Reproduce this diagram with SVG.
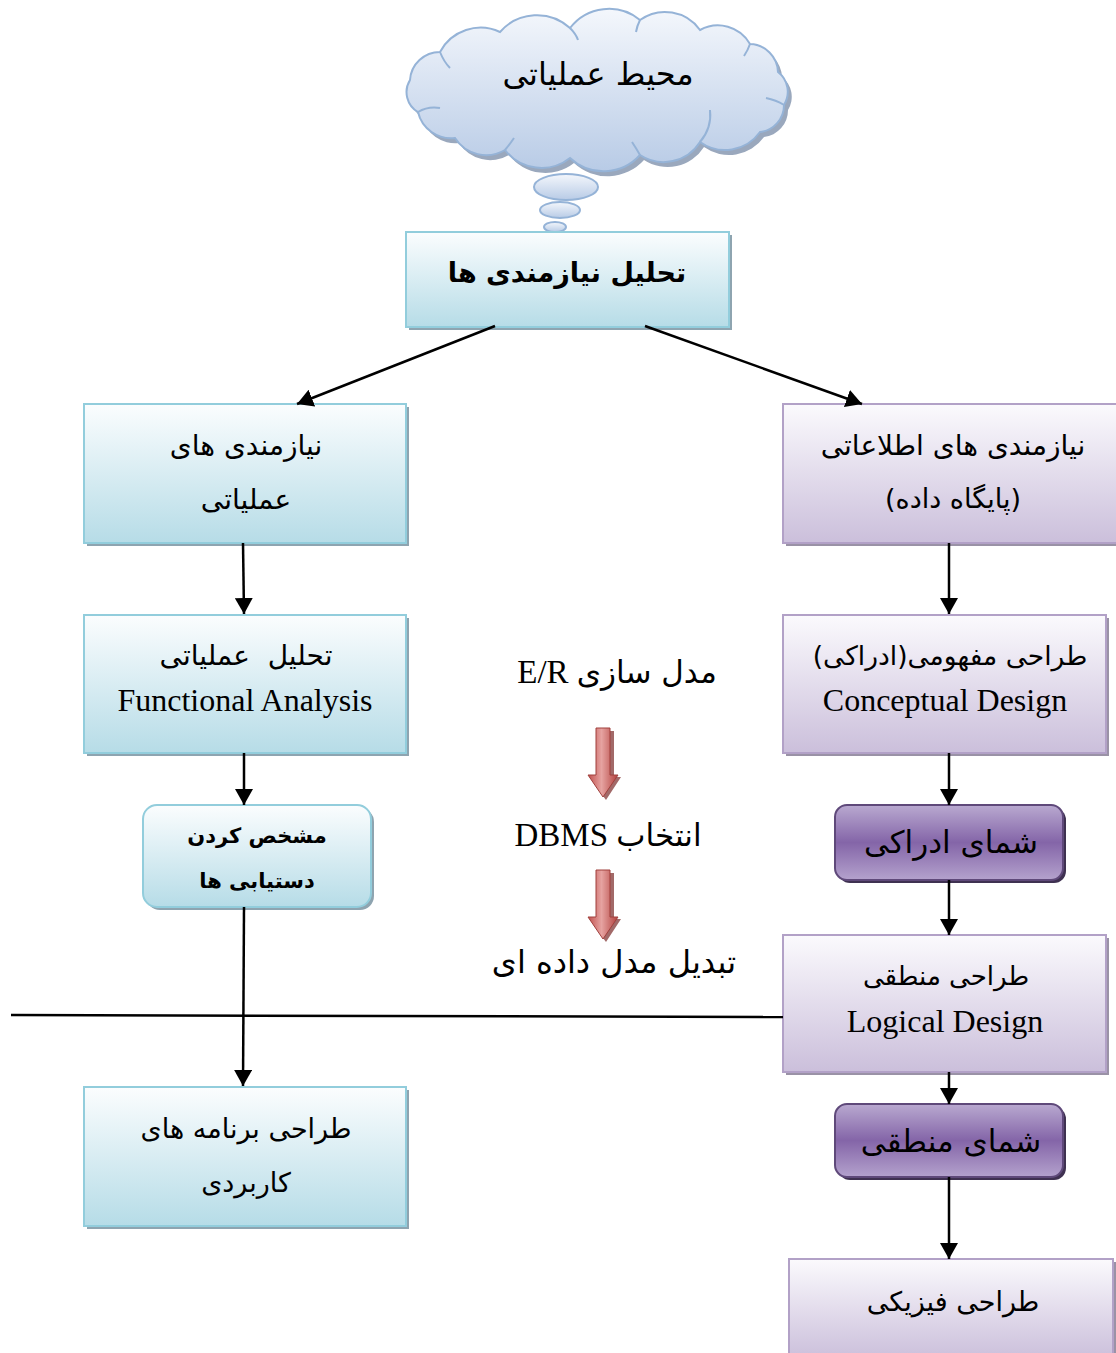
<svg xmlns="http://www.w3.org/2000/svg" width="1116" height="1353" viewBox="0 0 1116 1353">
<defs>
<linearGradient id="gBlue" x1="0" y1="0" x2="0" y2="1"><stop offset="0" stop-color="#fbfdfe"/><stop offset="1" stop-color="#b6dce7"/></linearGradient>
<linearGradient id="gPurple" x1="0" y1="0" x2="0" y2="1"><stop offset="0" stop-color="#fbfafd"/><stop offset="1" stop-color="#cbbfdb"/></linearGradient>
<linearGradient id="gPurpleDark" x1="0" y1="0" x2="0" y2="1"><stop offset="0" stop-color="#b9a9d0"/><stop offset="0.5" stop-color="#8465a8"/><stop offset="1" stop-color="#b4a2cd"/></linearGradient>
<linearGradient id="gCloud" x1="0" y1="0" x2="0" y2="1"><stop offset="0" stop-color="#f4f7fc"/><stop offset="1" stop-color="#b8cbe6"/></linearGradient>
<linearGradient id="gRed" x1="0" y1="0" x2="1" y2="0"><stop offset="0" stop-color="#c0504d"/><stop offset="0.45" stop-color="#e6a3a1"/><stop offset="1" stop-color="#b2403d"/></linearGradient>
<marker id="arr" markerUnits="userSpaceOnUse" markerWidth="16" markerHeight="18" viewBox="0 0 16 18" refX="16" refY="9" orient="auto"><path d="M0,0 L16,9 L0,18 Z" fill="#000"/></marker>
<path id="cloudShape" d="M418,112 A23,23 0 0 1 410,80 A30,30 0 0 1 440,52 A46,46 0 0 1 500,32 A49,49 0 0 1 570,28 A49,49 0 0 1 640,20 A43,43 0 0 1 700,30 A37,37 0 0 1 750,44 A29,29 0 0 1 778,72 A25,25 0 0 1 784,105 A27,27 0 0 1 760,132 A43,43 0 0 1 700,142 A43,43 0 0 1 640,155 A49,49 0 0 1 570,158 A46,46 0 0 1 505,150 A37,37 0 0 1 455,138 A34,34 0 0 1 418,112 Z"/>
</defs>
<style>
.blue{fill:url(#gBlue);stroke:#92cddc;stroke-width:2}
.purple{fill:url(#gPurple);stroke:#b2a1c7;stroke-width:2}
.pdark{fill:url(#gPurpleDark);stroke:#5f497a;stroke-width:2}
.sh{fill:#8ea4b0}
.shp{fill:#9a92a6}
.shd{fill:#3f3151}
.t{font-family:"Liberation Serif","DejaVu Sans",serif;fill:#000;text-anchor:middle}
.fa{font-family:"DejaVu Sans","Liberation Serif",serif;fill:#000;text-anchor:middle}
.c{stroke:#000;stroke-width:2.5;fill:none;marker-end:url(#arr)}
</style>

<g id="cloud">
<use href="#cloudShape" transform="translate(4,5)" fill="#9aa8bd"/>
<use href="#cloudShape" fill="url(#gCloud)" stroke="#95b3d7" stroke-width="2"/>
<g fill="none" stroke="#95b3d7" stroke-width="2">
<path d="M418,112 Q428,106 440,108"/>
<path d="M440,52 Q444,62 450,68"/>
<path d="M570,28 Q576,34 578,40"/>
<path d="M640,20 Q637,26 636,32"/>
<path d="M750,44 Q748,50 744,56"/>
<path d="M784,105 Q776,100 766,98"/>
<path d="M700,142 Q712,128 710,110"/>
<path d="M640,155 Q636,148 632,142"/>
<path d="M505,150 Q510,144 514,138"/>
</g>
<g fill="url(#gCloud)" stroke="#95b3d7" stroke-width="2">
<ellipse cx="566" cy="187" rx="32" ry="13"/>
<ellipse cx="560" cy="210" rx="20" ry="8"/>
<ellipse cx="555" cy="227" rx="11" ry="5"/>
</g>
<text class="fa" x="598" y="85" font-size="32">محیط عملیاتی</text>
</g>

<g id="n_req">
<rect class="sh" x="409" y="235" width="323" height="95"/>
<rect class="blue" x="406" y="232" width="323" height="95"/>
<text class="fa" x="567" y="282" font-size="27" font-weight="bold">تحلیل نیازمندی ها</text>
</g>

<g id="n_func_req">
<rect class="sh" x="87" y="407" width="322" height="139"/>
<rect class="blue" x="84" y="404" width="322" height="139"/>
<text class="fa" x="246" y="455" font-size="28">نیازمندی های</text>
<text class="fa" x="246" y="509" font-size="28">عملیاتی</text>
</g>

<g id="n_func_an">
<rect class="sh" x="87" y="618" width="322" height="138"/>
<rect class="blue" x="84" y="615" width="322" height="138"/>
<text class="fa" x="246" y="665" font-size="28" style="white-space:pre">تحلیل  عملیاتی</text>
<text class="t" x="245" y="711" font-size="32">Functional Analysis</text>
</g>

<g id="n_access">
<rect class="sh" x="146" y="808" width="228" height="102" rx="14"/>
<rect class="blue" x="143" y="805" width="228" height="102" rx="14"/>
<text class="fa" x="257" y="843" font-size="21" font-weight="bold">مشخص کردن</text>
<text class="fa" x="257" y="888" font-size="21" font-weight="bold">دستیابی ها</text>
</g>

<g id="n_app">
<rect class="sh" x="87" y="1090" width="322" height="139"/>
<rect class="blue" x="84" y="1087" width="322" height="139"/>
<text class="fa" x="246" y="1138" font-size="27">طراحی برنامه های</text>
<text class="fa" x="246" y="1192" font-size="27">کاربردی</text>
</g>

<g id="n_info_req">
<rect class="shp" x="786" y="407" width="333" height="139"/>
<rect class="purple" x="783" y="404" width="336" height="139"/>
<text class="fa" x="953" y="455" font-size="28">نیازمندی های اطلاعاتی</text>
<text class="fa" x="953" y="508" font-size="27">(پایگاه داده)</text>
</g>

<g id="n_concept">
<rect class="shp" x="786" y="618" width="323" height="138"/>
<rect class="purple" x="783" y="615" width="323" height="138"/>
<text class="fa" x="950" y="665" font-size="26.5">طراحی مفهومی(ادراکی)</text>
<text class="t" x="945" y="711" font-size="32">Conceptual Design</text>
</g>

<g id="n_cschema">
<rect class="shd" x="838" y="808" width="228" height="75" rx="12"/>
<rect class="pdark" x="835" y="805" width="228" height="75" rx="12"/>
<text class="fa" x="951" y="853" font-size="31">شمای ادراکی</text>
</g>

<g id="n_logical">
<rect class="shp" x="786" y="938" width="323" height="137"/>
<rect class="purple" x="783" y="935" width="323" height="137"/>
<text class="fa" x="946" y="985" font-size="26">طراحی منطقی</text>
<text class="t" x="945" y="1032" font-size="32">Logical Design</text>
</g>

<g id="n_lschema">
<rect class="shd" x="838" y="1107" width="228" height="73" rx="12"/>
<rect class="pdark" x="835" y="1104" width="228" height="73" rx="12"/>
<text class="fa" x="951" y="1152" font-size="31">شمای منطقی</text>
</g>

<g id="n_physical">
<rect class="shp" x="792" y="1262" width="324" height="100"/>
<rect class="purple" x="789" y="1259" width="324" height="100"/>
<text class="fa" x="953" y="1311" font-size="27">طراحی فیزیکی</text>
</g>

<g id="middle">
<text class="t" x="617" y="683" font-size="33" direction="rtl"><tspan font-family="DejaVu Sans" font-size="31">مدل سازی</tspan> E/R</text>
<path fill="#7a2a28" d="M600,731 H614 V777 H621 L606,800 L603,796 Z" opacity="0.7"/>
<path fill="url(#gRed)" stroke="#a0403d" stroke-width="1" d="M596,728 H610 V775 H618 L603,797 L588,775 H596 Z"/>
<text class="t" x="608" y="846" font-size="33" direction="rtl"><tspan font-family="DejaVu Sans" font-size="31">انتخاب</tspan> DBMS</text>
<path fill="#7a2a28" d="M600,873 H614 V919 H621 L606,942 L603,938 Z" opacity="0.7"/>
<path fill="url(#gRed)" stroke="#a0403d" stroke-width="1" d="M596,870 H610 V917 H618 L603,939 L588,917 H596 Z"/>
<text class="fa" x="614" y="973" font-size="32">تبدیل مدل داده ای</text>
</g>

<g id="connectors">
<line class="c" x1="495" y1="326" x2="297" y2="404"/>
<line class="c" x1="645" y1="326" x2="862" y2="404"/>
<line class="c" x1="243" y1="543" x2="244" y2="614"/>
<line class="c" x1="244" y1="753" x2="244" y2="805"/>
<line class="c" x1="244" y1="907" x2="243" y2="1086"/>
<line class="c" x1="949" y1="543" x2="949" y2="614"/>
<line class="c" x1="949" y1="753" x2="949" y2="805"/>
<line class="c" x1="949" y1="880" x2="949" y2="935"/>
<line class="c" x1="949" y1="1072" x2="949" y2="1104"/>
<line class="c" x1="949" y1="1177" x2="949" y2="1259"/>
<line stroke="#000" stroke-width="2.5" x1="11" y1="1015" x2="783" y2="1017"/>
</g>
</svg>
